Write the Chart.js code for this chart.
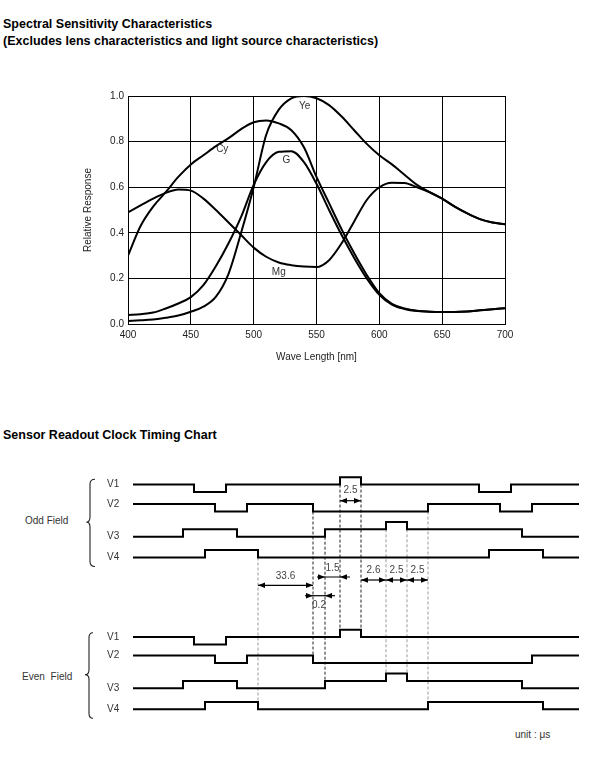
<!DOCTYPE html>
<html><head><meta charset="utf-8">
<script src="https://cdn.jsdelivr.net/npm/chart.js@4.4.1/dist/chart.umd.min.js"></script>
<style>
html,body{margin:0;padding:0;background:#fff;}
body{width:600px;height:757px;position:relative;overflow:hidden;font-family:"Liberation Sans",Arial,sans-serif;}
.t{position:absolute;left:3px;font-weight:bold;font-size:12.5px;color:#000;white-space:nowrap;line-height:14px;}
.lbl{position:absolute;font-size:10px;color:#333;white-space:nowrap;line-height:12px;}
#c1wrap{position:absolute;left:0;top:80px;width:600px;height:300px;}
#c2wrap{position:absolute;left:0;top:440px;width:600px;height:300px;}
</style></head>
<body>
<div class="t" style="top:17px">Spectral Sensitivity Characteristics</div>
<div class="t" style="top:34px">(Excludes lens characteristics and light source characteristics)</div>
<div class="t" style="top:428px">Sensor Readout Clock Timing Chart</div>
<div class="lbl" style="left:25px;top:515px">Odd Field</div>
<div class="lbl" style="left:22px;top:671px;word-spacing:3px">Even Field</div>
<div class="lbl" style="left:515px;top:729px">unit : μs</div>
<div id="c1wrap"><canvas id="c1"></canvas></div>
<div id="c2wrap"><canvas id="c2"></canvas></div>
<script>
// ---------------- Spectral sensitivity data ----------------
const wavelengths = [400,410,420,430,440,450,460,470,480,490,500,510,520,530,540,550,560,570,580,590,600,610,620,630,640,650,660,670,680,690,700];
const cyValues = [0.30,0.43,0.515,0.578,0.645,0.70,0.74,0.78,0.815,0.855,0.885,0.893,0.88,0.85,0.775,0.645,0.53,0.415,0.31,0.215,0.135,0.088,0.068,0.058,0.054,0.053,0.053,0.055,0.06,0.065,0.069];
const gValues  = [0.04,0.043,0.05,0.068,0.09,0.118,0.17,0.254,0.354,0.47,0.61,0.71,0.755,0.758,0.71,0.615,0.50,0.39,0.29,0.20,0.128,0.085,0.066,0.057,0.054,0.053,0.053,0.055,0.06,0.065,0.069];
const yeValues = [0.013,0.016,0.02,0.027,0.037,0.054,0.076,0.12,0.22,0.40,0.60,0.83,0.94,0.99,1.0,0.99,0.96,0.91,0.85,0.79,0.74,0.70,0.655,0.61,0.578,0.55,0.515,0.485,0.46,0.445,0.437];
const mgValues = [0.49,0.52,0.55,0.575,0.59,0.585,0.55,0.50,0.445,0.39,0.335,0.295,0.27,0.258,0.252,0.25,0.28,0.354,0.45,0.544,0.60,0.62,0.618,0.60,0.578,0.55,0.515,0.485,0.46,0.445,0.437];
const curveNames = ['Cy','G','Ye','Mg'];
const curveLabelWl = [475,526,540.5,520];
const curveLabelVal = [0.767,0.72,0.957,0.229];
const xTickStep = 50;
const yTickStep = 0.2;

// ---------------- Timing chart data (time in drawing units) ----------------
const signalNames = ['V1','V2','V3','V4'];
const oddEdges = [[61,93,207,228,346,378],[82,114,180,295,367,399],[50,104,192,253,274,389],[72,125,356,410]];
const oddLevels = [[1,0,1,2,1,0,1],[1,0,1,0,1,0,1],[0,1,0,1,2,1,0],[0,1,0,1,0]];
const evenEdges = [[61,93,207,228],[82,114,180,399],[50,104,192,253,274,389],[72,125,295,410]];
const evenLevels = [[1,0,1,2,1],[1,0,1,0,1],[0,1,0,1,2,1,0],[0,1,0,1,0]];
const timeSpan = 446;
// dashed guides: time, top row/level, bottom row/level (rows 0-3 odd, 4-7 even)
const guideT = [125,180,192,207,228,253,274,295];
const guideTopRow = [3,1,2,0,0,2,2,1];
const guideTopLevel = [0,0,0,1,1,1,1,0];
const guideBotRow = [7,5,6,4,4,6,6,7];
const guideBotLevel = [1,1,1,2,2,1,1,1];
const guideDark = [false,true,true,true,true,false,false,false];
// dimension annotations
const dimLabels = ['2.5','33.6','1.5','0.2','2.6','2.5','2.5'];
const dimFrom = [207,125,192,180,228,253,274];
const dimTo   = [228,180,207,192,253,274,295];

// ---------------- layout constants ----------------
const rowBase = [52,71.5,96.7,117.5,204.5,223,248.3,269.3];
const levelStep = 7.4;
const restLevel = [1,1,0,0];

Chart.defaults.font.family = '"Liberation Sans", Arial, sans-serif';
Chart.defaults.font.size = 10;
Chart.defaults.color = '#222';

const curveLabelPlugin = {
  id: 'curveLabels',
  afterDatasetsDraw(chart) {
    const {ctx, scales: {x, y}} = chart;
    ctx.save();
    ctx.font = '10px "Liberation Sans", Arial, sans-serif';
    ctx.fillStyle = '#333';
    ctx.textAlign = 'center';
    ctx.textBaseline = 'middle';
    curveNames.forEach((n, i) => ctx.fillText(n, x.getPixelForValue(curveLabelWl[i]), y.getPixelForValue(curveLabelVal[i])));
    ctx.restore();
  }
};

const mk = (vals) => wavelengths.map((w, i) => ({x: w, y: vals[i]}));
const lineDs = (label, vals) => ({label, data: mk(vals), borderColor: '#000', borderWidth: 2, pointRadius: 0, cubicInterpolationMode: 'monotone', fill: false});

new Chart(document.getElementById('c1'), {
  type: 'line',
  data: { datasets: [lineDs('Cy', cyValues), lineDs('G', gValues), lineDs('Ye', yeValues), lineDs('Mg', mgValues)] },
  options: {
    responsive: true, maintainAspectRatio: false, animation: false,
    layout: { padding: { left: 0, top: 16, right: 95, bottom: 0 } },
    plugins: { legend: { display: false }, tooltip: { enabled: false } },
    scales: {
      x: {
        type: 'linear', min: 400, max: 700,
        ticks: { stepSize: xTickStep, padding: 5, color: '#222' },
        grid: { color: '#000', lineWidth: 1, drawTicks: false },
        border: { display: true, color: '#000', width: 1 },
        title: { display: true, text: 'Wave Length [nm]', color: '#222', font: { size: 10 }, padding: { top: 0, bottom: 17 } },
        afterFit(s) { s.height = 56; }
      },
      y: {
        min: 0, max: 1,
        ticks: { stepSize: yTickStep, padding: 4, color: '#222', callback: v => v.toFixed(1) },
        grid: { color: '#000', lineWidth: 1, drawTicks: false },
        border: { display: true, color: '#000', width: 1 },
        title: { display: true, text: 'Relative Response', color: '#222', font: { size: 10 }, padding: { top: 82, bottom: 0 } },
        afterFit(s) { s.width = 128; }
      }
    }
  },
  plugins: [curveLabelPlugin]
});

// ---------------- Timing chart ----------------
const yOf = (row, level) => rowBase[row] - level * levelStep;
function signalPoints(edges, levels, row) {
  const pts = [{x: 0, y: yOf(row, levels[0])}];
  edges.forEach((e, i) => { pts.push({x: e, y: yOf(row, levels[i])}); pts.push({x: e, y: yOf(row, levels[i + 1])}); });
  pts.push({x: timeSpan, y: yOf(row, levels[levels.length - 1])});
  return pts;
}
const datasets2 = [];
oddEdges.forEach((e, i) => datasets2.push({data: signalPoints(e, oddLevels[i], i), borderColor: '#000', borderWidth: 2, pointRadius: 0, tension: 0, borderJoinStyle: 'miter'}));
evenEdges.forEach((e, i) => datasets2.push({data: signalPoints(e, evenLevels[i], i + 4), borderColor: '#000', borderWidth: 2, pointRadius: 0, tension: 0, borderJoinStyle: 'miter'}));
guideT.forEach((t, i) => datasets2.push({
  data: [{x: t, y: yOf(guideTopRow[i], guideTopLevel[i])}, {x: t, y: yOf(guideBotRow[i], guideBotLevel[i])}],
  borderColor: guideDark[i] ? '#222' : '#999', borderWidth: 1, borderDash: [3, 2], pointRadius: 0
}));

// dimension layout: y of arrow line, label y, style
const dimY = [60.7, 145.3, 137, 155.7, 140, 140, 140];
const dimLabelY = [50.7, 136.7, 128, 165.5, 130, 130, 130];
const dimStyle = ['out','out','in','in','chain','chain','chain'];

function arrowHead(ctx, xTip, y, dir) { // dir: +1 points right, -1 points left
  ctx.beginPath();
  ctx.moveTo(xTip, y);
  ctx.lineTo(xTip - dir * 7, y - 2.8);
  ctx.lineTo(xTip - dir * 7, y + 2.8);
  ctx.closePath();
  ctx.fill();
}

const timingPlugin = {
  id: 'timingAnnot',
  afterDatasetsDraw(chart) {
    const {ctx, scales: {x, y}, chartArea} = chart;
    ctx.save();
    ctx.strokeStyle = '#000'; ctx.fillStyle = '#000'; ctx.lineWidth = 1.2;
    dimLabels.forEach((lab, i) => {
      const x1 = x.getPixelForValue(dimFrom[i]), x2 = x.getPixelForValue(dimTo[i]);
      const yy = y.getPixelForValue(dimY[i]);
      ctx.beginPath();
      if (dimStyle[i] === 'in') { ctx.moveTo(x1 - 8, yy); ctx.lineTo(x2 + 10, yy); }
      else { ctx.moveTo(x1, yy); ctx.lineTo(x2, yy); }
      ctx.stroke();
      if (dimStyle[i] === 'in') { arrowHead(ctx, x1, yy, 1); arrowHead(ctx, x2, yy, -1); }
      else { arrowHead(ctx, x1, yy, -1); arrowHead(ctx, x2, yy, 1); }
    });
    ctx.font = '10px "Liberation Sans", Arial, sans-serif';
    ctx.fillStyle = '#444'; ctx.textAlign = 'center'; ctx.textBaseline = 'middle';
    dimLabels.forEach((lab, i) => {
      const xm = (x.getPixelForValue(dimFrom[i]) + x.getPixelForValue(dimTo[i])) / 2;
      ctx.fillText(lab, xm, y.getPixelForValue(dimLabelY[i]));
    });
    // signal names
    ctx.fillStyle = '#333'; ctx.textAlign = 'left';
    for (let r = 0; r < 8; r++) {
      ctx.fillText(signalNames[r % 4], chartArea.left - 26, y.getPixelForValue(yOf(r, restLevel[r % 4])));
    }
    // braces
    ctx.strokeStyle = '#222'; ctx.lineWidth = 1.1;
    const brace = (xs, xe, xt, yt, ym, yb) => {
      const r = 5;
      ctx.beginPath();
      ctx.moveTo(xe, yt);
      ctx.quadraticCurveTo(xs, yt, xs, yt + r);
      ctx.lineTo(xs, ym - r);
      ctx.quadraticCurveTo(xs, ym, xt, ym);
      ctx.quadraticCurveTo(xs, ym, xs, ym + r);
      ctx.lineTo(xs, yb - r);
      ctx.quadraticCurveTo(xs, yb, xe, yb);
      ctx.stroke();
    };
    const L = chartArea.left;
    brace(L - 43, L - 38, L - 46.5, y.getPixelForValue(yOf(0, 2) + 2), y.getPixelForValue((yOf(1,0) + yOf(2,0)) / 2 - 2), y.getPixelForValue(yOf(3, 0) + 9));
    brace(L - 44, L - 40, L - 48, y.getPixelForValue(yOf(4, 2) + 3), y.getPixelForValue((yOf(5,0) + yOf(6,0)) / 2 - 1), y.getPixelForValue(yOf(7, 0) + 9));
    ctx.restore();
  }
};

new Chart(document.getElementById('c2'), {
  type: 'line',
  data: { datasets: datasets2 },
  options: {
    responsive: true, maintainAspectRatio: false, animation: false,
    layout: { padding: { left: 133, right: 21, top: 0, bottom: 0 } },
    plugins: { legend: { display: false }, tooltip: { enabled: false } },
    scales: {
      x: { type: 'linear', min: 0, max: timeSpan, display: false },
      y: { type: 'linear', min: 0, max: 300, reverse: true, display: false }
    },
    elements: { line: { borderCapStyle: 'butt' } }
  },
  plugins: [timingPlugin]
});
</script>
</body></html>
